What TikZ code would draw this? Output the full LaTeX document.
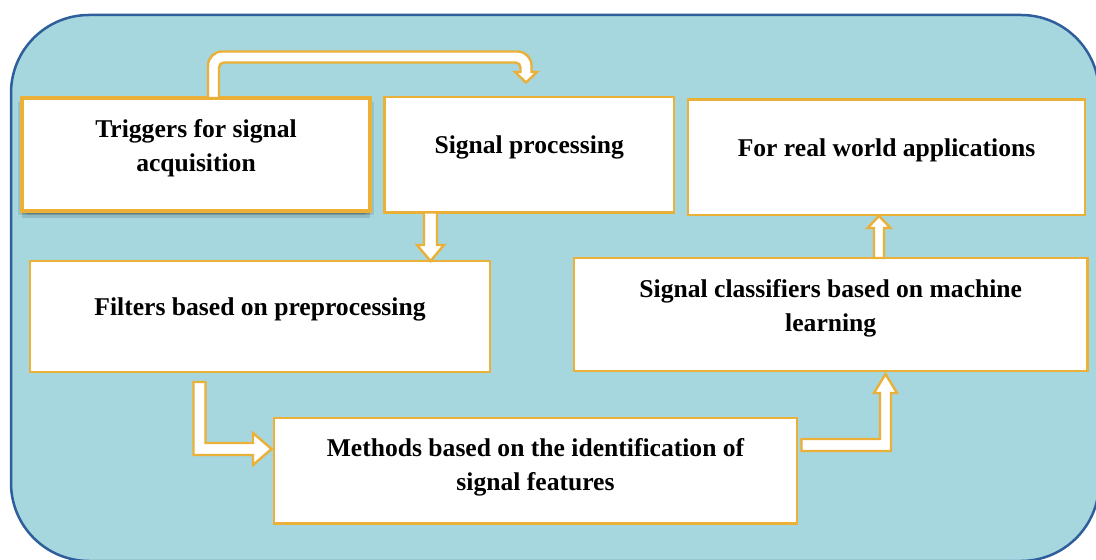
\documentclass[tikz,border=0pt]{standalone}
\usepackage{fontspec}
\setmainfont{Liberation Serif}
\usepackage{tikz}
\usetikzlibrary{positioning,calc,shadows}
\definecolor{darkblue}{RGB}{46,94,156}
\definecolor{panelteal}{RGB}{166,215,222}
\definecolor{boxgold}{RGB}{235,176,56}

\begin{document}
\begin{tikzpicture}[
  x=0.5pt, y=-0.5pt,
  panel/.style = {draw=darkblue, line width=1.25pt, fill=panelteal,
                  rounded corners=39pt},
  box/.style = {rectangle, draw=boxgold, line width=1.4pt, fill=white,
                inner sep=0pt, outer sep=0pt},
  softshadow/.style = {
    drop shadow={shadow xshift=-2pt, shadow yshift=-2pt, opacity=0.1, fill=black},
    drop shadow={shadow xshift=2pt, shadow yshift=-2pt, opacity=0.1, fill=black},
    drop shadow={shadow xshift=0pt, shadow yshift=-3.5pt, opacity=0.12, fill=black},
    drop shadow={shadow xshift=0pt, shadow yshift=-1.5pt, opacity=0.15, fill=black}},
  boxtext/.style = {font=\bfseries\fontsize{12.8}{17}\selectfont,
                    align=center, inner sep=0pt},
  hollow/.style = {draw=boxgold, fill=white, line width=1.2pt, line join=miter},
]
\useasboundingbox (0,0) rectangle (1096,560);
\clip (0,0) rectangle (1096,560);

% background panel
\draw[panel] (11,15) rectangle (1099,561);

% boxes
\node[box, line width=2pt, softshadow, minimum width=174pt, minimum height=56.75pt]
      (trig) at (196,154.75) {};
\node[box, minimum width=144.75pt, minimum height=57.75pt] (proc) at (529.25,154.75) {};
\node[box, minimum width=198.5pt, minimum height=57.85pt] (real) at (886.5,157.15) {};
\node[box, minimum width=230pt, minimum height=55.5pt] (filt) at (260,316.5) {};
\node[box, minimum width=256.75pt, minimum height=56.5pt] (clas) at (830.75,314.5) {};
\node[box, minimum width=261.5pt, minimum height=52.65pt] (meth) at (535.5,470.65) {};

\node[boxtext] (trig-txt) at ($(trig)+(0,-7)$) {Triggers for signal\\acquisition};
\node[boxtext] (proc-txt) at ($(proc)+(0,-7)$) {Signal processing};
\node[boxtext] (real-txt) at ($(real)+(0,-7)$) {For real world applications};
\node[boxtext] (filt-txt) at ($(filt)+(0,-7)$) {Filters based on preprocessing};
\node[boxtext] (clas-txt) at ($(clas)+(0,-6.5)$) {Signal classifiers based on machine\\learning};
\node[boxtext] (meth-txt) at ($(meth)+(0,-3)$) {Methods based on the identification of\\signal features};

% block arrows
\draw[hollow] ($(trig.north)+(12,0)$) [rounded corners=7pt] -- ++(0,-46.5) -- ++(323.5,0)
  [sharp corners] -- ++(0,20.5) -- ++(5.5,0) -- ($(proc.north)+(-3.25,-14.5)$)
  -- ++(-11,-10.5) -- ++(5.5,0) [rounded corners=2.5pt] -- ++(0,-9.5) -- ++(-301.5,0)
  [sharp corners] -- ++(0,35.5) -- cycle;
\draw[hollow] ($(proc.south)+(-105.25,0)$) -- ++(0,32.5) -- ++(-7,0)
  -- ($(filt.north)+(170.5,0)$) -- ++(13.5,-16) -- ++(-7,0) -- ++(0,-32.5) -- cycle;
\draw[hollow] ($(filt.south)+(-66.5,10)$) -- ++(0,73) -- ++(59.5,0) -- ++(0,10)
  -- ($(meth.west)+(-2.5,-21.65)$) -- ++(-18.5,-16) -- ++(0,10) -- ++(-47.5,0)
  -- ++(0,-61) -- cycle;
\draw[hollow] ($(meth.east)+(4.5,-19.65)$) -- ++(89.5,0) -- ++(0,-58) -- ++(6,0)
  -- ($(clas.south)+(54.75,3)$) -- ++(-11.5,19) -- ++(6,0) -- ++(0,46)
  -- ++(-78.5,0) -- cycle;
\draw[hollow] ($(clas.north)+(43.25,0)$) -- ++(0,-30) -- ++(-6.5,0)
  -- ($(real.south)+(-7.5,1)$) -- ++(11.5,12) -- ++(-6.5,0) -- ++(0,30) -- cycle;
\end{tikzpicture}
\end{document}
